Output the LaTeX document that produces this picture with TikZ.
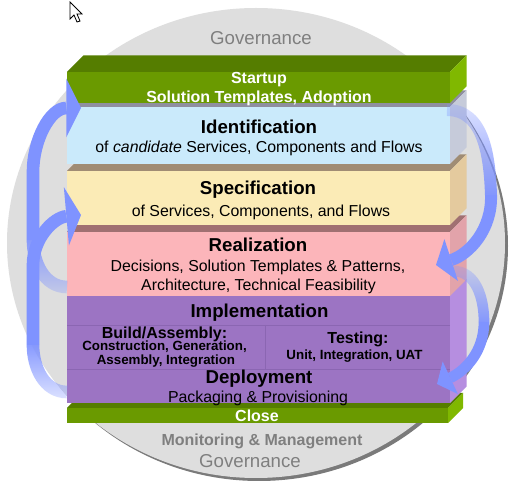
\documentclass[tikz,border=0pt]{standalone}
\usepackage{fontspec}
\setmainfont{Liberation Sans}
\usetikzlibrary{arrows.meta,fadings}
\definecolor{circfill}{HTML}{DEDEDE}
\definecolor{circshadow}{HTML}{7A7A7A}
\definecolor{grnfront}{HTML}{6A9A00}
\definecolor{grntop}{HTML}{557D00}
\definecolor{grnside}{HTML}{80B800}
\definecolor{idfront}{HTML}{CAEAFB}
\definecolor{idtop}{HTML}{8F8FA0}
\definecolor{idside}{HTML}{C6CBDA}
\definecolor{spfront}{HTML}{FBEBB6}
\definecolor{sptop}{HTML}{A08C74}
\definecolor{spside}{HTML}{E4CA9E}
\definecolor{refront}{HTML}{FCB5BA}
\definecolor{retop}{HTML}{A07072}
\definecolor{reside}{HTML}{E2A3AA}
\definecolor{imfront}{HTML}{9C74C3}
\definecolor{imtop}{HTML}{8A60B0}
\definecolor{imside}{HTML}{B68EE0}
\definecolor{imline}{HTML}{8B66B2}
\definecolor{arrowblue}{HTML}{7F93FF}
\definecolor{govgray}{HTML}{7F7F7F}
\tikzfading[name=fadeS, top color=transparent!0, bottom color=transparent!72]
\tikzfading[name=fadeN, top color=transparent!75, bottom color=transparent!0]
% x1,y1,x2,y2,depth,front,top,side
\newcommand{\stackslab}[8]{%
  \fill[#7] (#1,#2) -- (#1+#5,#2-#5) -- (#3+#5,#2-#5) -- (#3,#2) -- cycle;
  \fill[#8] (#3,#2) -- (#3+#5,#2-#5) -- (#3+#5,#4-#5) -- (#3,#4) -- cycle;
  \fill[#6] (#1,#2) rectangle (#3,#4);
}
\tikzset{
  ttl/.style={anchor=base, inner sep=0pt, font=\fontsize{14}{16}\selectfont\bfseries},
  sub/.style={anchor=base, inner sep=0pt, font=\fontsize{11.9}{14}\selectfont},
  wht/.style={anchor=base, inner sep=0pt, text=white, font=\fontsize{12}{14}\selectfont\bfseries},
  smallb/.style={anchor=base, inner sep=0pt, font=\fontsize{10}{12}\selectfont\bfseries},
  midb/.style={anchor=base, inner sep=0pt, font=\fontsize{12}{14}\selectfont\bfseries},
  gov/.style={anchor=base, inner sep=0pt, text=govgray, font=\fontsize{14}{16}\selectfont},
  govb/.style={anchor=base, inner sep=0pt, text=govgray, font=\fontsize{12}{14}\selectfont\bfseries},
  shaftL/.style={draw=arrowblue, line width=9.5pt, line cap=butt},
  shaftR/.style={draw=arrowblue, line width=9pt, line cap=butt},
  shaftR2/.style={draw=arrowblue, line width=8pt, line cap=butt},
  cycL/.style={shaftL, -{Triangle[width=44pt,length=11pt,line width=0pt]}},
  cycR/.style={shaftR, -{Triangle[width=33pt,length=12pt,line width=0pt]}},
  cycR2/.style={shaftR2, -{Triangle[width=27pt,length=11pt,line width=0pt]}},
}
\begin{document}
\begin{tikzpicture}[x=0.75pt,y=-0.75pt]
\useasboundingbox (0,0) rectangle (515,488);
\fill[white] (0,0) rectangle (515,488);
% cursor
\filldraw[fill=white, draw=black, line width=0.6pt, line join=miter]
  (70,2) -- (70,19) -- (74,15) -- (77,22) -- (80,21) -- (77,14) -- (82,14) -- cycle;
% circle with shadow
\fill[circshadow] (259,246) ellipse [x radius=249, y radius=235];
\fill[circfill] (256,243) ellipse [x radius=249, y radius=235];
% stack, bottom to top
\stackslab{67}{408}{448}{423}{15}{grnfront}{grntop}{grnside}
\stackslab{67}{296}{450}{403}{16.5}{imfront}{imtop}{imside}
\draw[imline, line width=0.6pt] (67,325) -- (450,325) (67,369) -- (450,369) (265,325) -- (265,369);
\stackslab{67}{232}{450}{296}{16.5}{refront}{retop}{reside}
\stackslab{67}{171}{450}{225}{16.5}{spfront}{sptop}{spside}
\stackslab{67}{107}{450}{164}{16.5}{idfront}{idtop}{idside}
\stackslab{67}{72}{450}{103}{16.5}{grnfront}{grntop}{grnside}
% texts
\node[gov] (govtop) at (261,45) {Governance};
\node[wht] (startup) at (259,84) {Startup};
\node[wht] (startsub) at (259,102.5) {Solution Templates, Adoption};
\node[ttl] (ident) at (259,134) {Identification};
\node[sub] (identsub) at (259,152.5) {of \textit{candidate} Services, Components and Flows};
\node[ttl] (spec) at (258,195) {Specification};
\node[sub] (specsub) at (261,216.5) {of Services, Components, and Flows};
\node[ttl] (real) at (258,251.5) {Realization};
\node[sub] (realsubA) at (258,271.5) {Decisions, Solution Templates \& Patterns,};
\node[sub] (realsubB) at (258.5,290.5) {Architecture, Technical Feasibility};
\node[ttl] (impl) at (259.5,317.3) {Implementation};
\node[midb] (build) at (164.5,338.3) {Build/Assembly:};
\node[smallb] (buildA) at (164.5,350.7) {Construction, Generation,};
\node[smallb] (buildB) at (166,364.3) {Assembly, Integration};
\node[midb] (test) at (358,343.3) {Testing:};
\node[smallb] (testA) at (354.5,359.3) {Unit, Integration, UAT};
\node[ttl] (deploy) at (259,383.3) {Deployment};
\node[sub] (deploysub) at (258,402.7) {Packaging \& Provisioning};
\node[wht] (close) at (257,421.7) {Close};
\node[govb] (monitor) at (262,446) {Monitoring \& Management};
\node[gov] (govbot) at (250,467.3) {Governance};
% cycle arrows: faded tail part, then solid part with head
\coordinate (ulTail) at (67,287);
\coordinate (ulA) at (33,240);
\coordinate (ulB) at (33,172);
\coordinate (ulHead) at (81,108);
\coordinate (llTail) at (67,392);
\coordinate (llA) at (33,345);
\coordinate (llB) at (33,265);
\coordinate (llHead) at (81,215);
\coordinate (urTail) at (447,110);
\coordinate (urA) at (491,195);
\coordinate (urHead) at (436,265);
\coordinate (lrTail) at (453,271);
\coordinate (lrA) at (484,322);
\coordinate (lrHead) at (437,384);
\draw[shaftL, path fading=fadeS] (ulA) to[out=270,in=180] (ulTail);
\draw[cycL] (ulA) -- (ulB) to[out=90,in=180] (ulHead);
\draw[shaftL, path fading=fadeS] (llA) to[out=270,in=180] (llTail);
\draw[cycL] (llA) -- (llB) to[out=90,in=185] (llHead);
\draw[shaftR, path fading=fadeN] (urTail) to[out=0,in=92] (urA);
\draw[cycR] (urA) to[out=272,in=18] (urHead);
\draw[shaftR2, path fading=fadeN] (lrTail) to[out=0,in=90] (lrA);
\draw[cycR2] (lrA) to[out=270,in=25] (lrHead);
\end{tikzpicture}
\end{document}
